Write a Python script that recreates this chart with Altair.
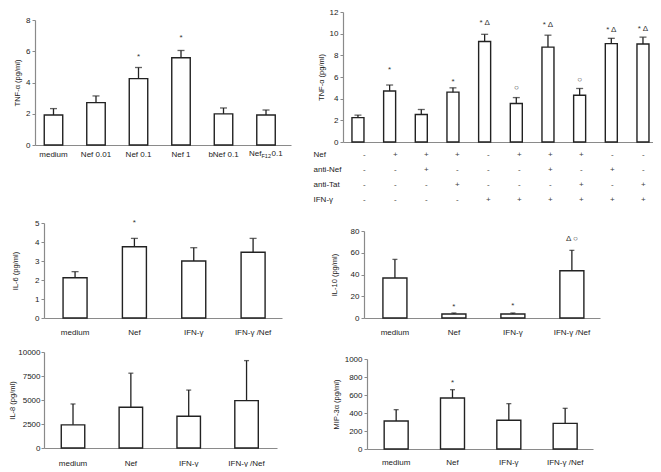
import altair as alt
import pandas as pd

FONT = "Liberation Sans"
INK = "#222222"
AXC = "#8a8a8a"

# ---------------- data ----------------
tnf1_cats = ["medium", "Nef 0.01", "Nef 0.1", "Nef 1", "bNef 0.1", "NefF12 0.1"]
tnf1_mean = [1.92, 2.71, 4.25, 5.58, 1.99, 1.92]
tnf1_sd = [0.41, 0.43, 0.71, 0.47, 0.38, 0.32]
tnf1_note_cat = ["Nef 0.1", "Nef 1"]
tnf1_note_y = [5.66, 6.82]
tnf1_note_txt = ["*", "*"]
tnf1_sub_parts = ["Nef", "F12", "0.1"]

tnf2_cats = ["c1", "c2", "c3", "c4", "c5", "c6", "c7", "c8", "c9", "c10"]
tnf2_mean = [2.25, 4.71, 2.54, 4.60, 9.28, 3.55, 8.76, 4.31, 9.08, 9.05]
tnf2_sd = [0.24, 0.55, 0.46, 0.40, 0.66, 0.55, 1.10, 0.63, 0.49, 0.63]
tnf2_note_cat = ["c2", "c4", "c5", "c6", "c7", "c8", "c9", "c10"]
tnf2_note_y = [6.62, 5.58, 11.0, 4.94, 10.84, 5.75, 10.3, 10.4]
tnf2_note_txt = ["*", "*", "* Δ", "○", "* Δ", "○", "* Δ", "* Δ"]

table_rows = ["Nef", "anti-Nef", "anti-Tat", "IFN-γ"]
row_nef = ["-", "+", "+", "+", "-", "+", "+", "+", "-", "-"]
row_antinef = ["-", "-", "+", "-", "-", "-", "+", "-", "+", "-"]
row_antitat = ["-", "-", "-", "+", "-", "-", "-", "+", "-", "+"]
row_ifng = ["-", "-", "-", "-", "+", "+", "+", "+", "+", "+"]

small_cats = ["medium", "Nef", "IFN-γ", "IFN-γ /Nef"]

il6_mean = [2.12, 3.75, 3.00, 3.46]
il6_sd = [0.32, 0.44, 0.70, 0.73]
il6_note_cat = ["Nef"]
il6_note_y = [5.0]
il6_note_txt = ["*"]

il10_mean = [36.8, 3.7, 3.7, 43.5]
il10_sd = [17.1, 0.9, 0.9, 18.7]
il10_note_cat = ["Nef", "IFN-γ", "IFN-γ /Nef"]
il10_note_y = [10.0, 10.7, 72.3]
il10_note_txt = ["*", "*", "Δ ○"]

il8_mean = [2414, 4241, 3310, 4931]
il8_sd = [2172, 3552, 2724, 4172]

mip_mean = [311, 567, 319, 285]
mip_sd = [126, 92, 185, 167]
mip_note_cat = ["Nef"]
mip_note_y = [730]
mip_note_txt = ["*"]

# ---------------- layout constants (cell-relative pixels) ----------------
WL, WR = 308, 310          # column widths
H_ROW = [133, 78, 95, 34, 97]


def xscale(cats, xr, pi, po, align):
    return alt.Scale(domain=cats, range=list(xr), paddingInner=pi,
                     paddingOuter=po, align=align)


def panel(cats, mean, sd, ymax, ystep, title, cw, ch, xr, yr, pi, po, align,
          cap, label_pad, notes=None, xlabels=True, label_expr=None, extra=None,
          title_pad=4, ylabel_pad=2):
    df = pd.DataFrame({"cat": cats, "mean": mean, "sd": sd})
    df["upper"] = df["mean"] + df["sd"]
    axis_kw = dict(title=None, ticks=False, labelAngle=0, labelPadding=label_pad,
                   labelFontSize=8, labelColor=INK, domainColor=AXC,
                   domainWidth=1.2, labels=xlabels, labelFont=FONT,
                   offset=-(ch - yr[0]))
    if label_expr is not None:
        axis_kw["labelExpr"] = label_expr
    x = alt.X("cat:N", scale=xscale(cats, xr, pi, po, align), axis=alt.Axis(**axis_kw))
    yvals = list(range(0, ymax + 1, ystep))
    yaxis = alt.Axis(title=title, values=yvals, tickCount=len(yvals) + 2,
                     format="d", grid=False,
                     tickSize=3, tickColor=AXC, domainColor=AXC, domainWidth=1.2,
                     labelFontSize=8, labelColor=INK, labelPadding=ylabel_pad,
                     labelOverlap=False, offset=-xr[0],
                     labelFont=FONT, titleFont=FONT, titleFontSize=7.5,
                     titleFontWeight="normal", titleColor=INK, titlePadding=title_pad)
    yscale = alt.Scale(domain=[0, ymax], nice=False, zero=True, range=list(yr))
    base = alt.Chart(df)
    bars = base.mark_bar(fill="white", stroke=INK, strokeWidth=1.4).encode(
        x=x, y=alt.Y("mean:Q", scale=yscale, axis=yaxis))
    err = base.mark_rule(color=INK, strokeWidth=1.3).encode(
        x=alt.X("cat:N"), y="mean:Q", y2="upper:Q")
    caps = base.mark_tick(color=INK, thickness=1.3, size=cap, orient="horizontal").encode(
        x=alt.X("cat:N"), y="upper:Q")
    layers = [bars, err, caps]
    if notes is not None:
        ndf = pd.DataFrame({"cat": notes[0], "y": notes[1], "txt": notes[2]})
        layers.append(alt.Chart(ndf).mark_text(fontSize=8, font=FONT, color="#333",
                                               baseline="middle").encode(
            x="cat:N", y="y:Q", text="txt:N"))
    if extra is not None:
        layers.extend(extra)
    return alt.layer(*layers).properties(width=cw, height=ch)


_sp = pd.DataFrame({"v": [0]})


def spacer(w, h):
    return alt.Chart(_sp).mark_point(opacity=0).encode(
        x=alt.value(0), y=alt.value(0)).properties(width=w, height=h)


# ---------------- panels ----------------
sub_df = pd.DataFrame({"cat": [tnf1_cats[-1]], "y": [0],
                       "a": [tnf1_sub_parts[0]], "b": [tnf1_sub_parts[1]],
                       "c": [tnf1_sub_parts[2]]})
sub_base = alt.Chart(sub_df)
sub_layers = [
    sub_base.mark_text(fontSize=8, font=FONT, color=INK, align="left", baseline="top",
                       dx=-17, dy=5).encode(x="cat:N", y="y:Q", text="a:N"),
    sub_base.mark_text(fontSize=5.5, font=FONT, color=INK, align="left", baseline="top",
                       dx=-4.5, dy=9).encode(x="cat:N", y="y:Q", text="b:N"),
    sub_base.mark_text(fontSize=8, font=FONT, color=INK, align="left", baseline="top",
                       dx=5.5, dy=5).encode(x="cat:N", y="y:Q", text="c:N"),
]

tnf1 = panel(tnf1_cats, tnf1_mean, tnf1_sd, 8, 2, "TNF-α (pg/ml)", WL, H_ROW[0],
             (0, 256), (133, 8), 0.565, 0.294, 0.37, 7, 5,
             notes=(tnf1_note_cat, tnf1_note_y, tnf1_note_txt),
             label_expr="datum.value == 'NefF12 0.1' ? '' : datum.label",
             extra=sub_layers)

TNF2_X = (0, 310)
TNF2_PI, TNF2_PO, TNF2_AL = 0.621, 0.205, 0.69
tnf2 = panel(tnf2_cats, tnf2_mean, tnf2_sd, 12, 2, "TNF-α (pg/ml)", WR, H_ROW[0],
             TNF2_X, (130, 0), TNF2_PI, TNF2_PO, TNF2_AL, 7, 5,
             notes=(tnf2_note_cat, tnf2_note_y, tnf2_note_txt), xlabels=False)

trows = []
for rname, vals in zip(table_rows, [row_nef, row_antinef, row_antitat, row_ifng]):
    for c, v in zip(tnf2_cats, vals):
        trows.append({"col": c, "row": rname, "v": v})
table_df = pd.DataFrame(trows)
table = alt.Chart(table_df).mark_text(fontSize=8, font=FONT, color="#444").encode(
    x=alt.X("col:N", scale=xscale(tnf2_cats, TNF2_X, TNF2_PI, TNF2_PO, TNF2_AL), axis=None),
    y=alt.Y("row:N", scale=alt.Scale(domain=table_rows, range=[2, 62]),
            axis=alt.Axis(title=None, domain=False, ticks=False, tickSize=0,
                          labelAlign="left", labelPadding=30, labelFontSize=8,
                          labelColor=INK, labelFont=FONT)),
    text="v:N").properties(width=WR, height=H_ROW[1])

il6 = panel(small_cats, il6_mean, il6_sd, 5, 1, "IL-6 (pg/ml)", WL, H_ROW[2],
            (9, 247), (95, 0), 0.5955, 0.303, 0.53, 7, 10,
            notes=(il6_note_cat, il6_note_y, il6_note_txt), title_pad=15)
il10 = panel(small_cats, il10_mean, il10_sd, 80, 20, "IL-10 (pg/ml)", WR, H_ROW[2],
             (21, 257), (95, 8), 0.593, 0.297, 0.54, 5, 10,
             notes=(il10_note_cat, il10_note_y, il10_note_txt), title_pad=12)
il8 = panel(small_cats, il8_mean, il8_sd, 10000, 2500, "IL-8 (pg/ml)", WL, H_ROW[4],
            (9, 242), (96, 0), 0.594, 0.311, 0.48, 5, 11,
            title_pad=1, ylabel_pad=1)
mip = panel(small_cats, mip_mean, mip_sd, 1000, 200, "MIP-3α (pg/ml)", WR, H_ROW[4],
            (24, 250), (97, 7), 0.574, 0.293, 0.52, 5, 9,
            notes=(mip_note_cat, mip_note_y, mip_note_txt))

items = [
    tnf1, tnf2,
    spacer(WL, H_ROW[1]), table,
    il6, il10,
    spacer(WL, H_ROW[3]), spacer(WR, H_ROW[3]),
    il8, mip,
]

chart = alt.concat(*items, columns=2, spacing=0, bounds="flush", align="each").properties(
    padding=0, background="white"
).configure_view(stroke=None)

chart.save("out.html", embed_options={"renderer": "svg", "actions": False})
